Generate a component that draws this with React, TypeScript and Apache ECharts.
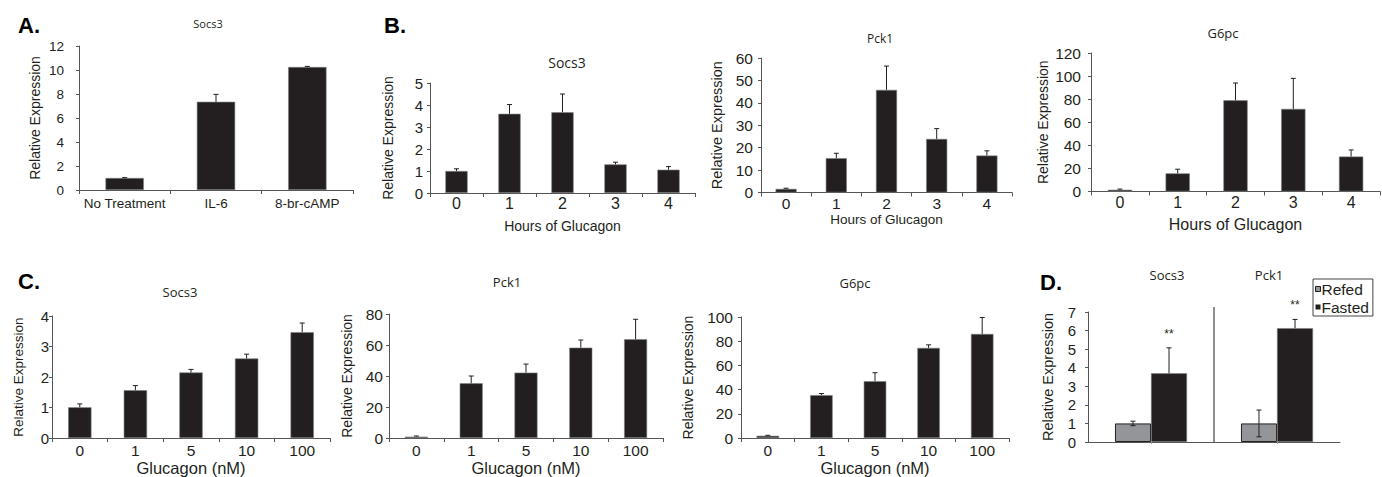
import React, { useEffect, useRef } from 'react';
import * as echarts from 'echarts';

// ---------- data ----------
const treatmentCategories = ['No Treatment', 'IL-6', '8-br-cAMP'];
const treatmentSocs3 = [1.0, 7.35, 10.25];
const treatmentSocs3Err = [0.03, 0.62, 0.05];

const hourCategories = ['0', '1', '2', '3', '4'];
const hoursSocs3 = [1.0, 3.6, 3.67, 1.3, 1.06];
const hoursSocs3Err = [0.1, 0.42, 0.83, 0.1, 0.14];
const hoursPck1 = [1.6, 15.3, 45.8, 23.9, 16.5];
const hoursPck1Err = [0.3, 2.2, 10.6, 4.6, 2.1];
const hoursG6pc = [1.5, 15.7, 79, 71.6, 30.3];
const hoursG6pcErr = [0.6, 3.6, 15, 26.4, 5.7];

const doseCategories = ['0', '1', '5', '10', '100'];
const doseSocs3 = [1.01, 1.57, 2.15, 2.61, 3.47];
const doseSocs3Err = [0.11, 0.15, 0.1, 0.14, 0.3];
const dosePck1 = [0.9, 35.3, 42.2, 58.3, 63.7];
const dosePck1Err = [0.4, 4.7, 5.5, 4.9, 12.9];
const doseG6pc = [1.9, 35.5, 47, 74.5, 86];
const doseG6pcErr = [0.4, 1.3, 7, 2.5, 13.6];

const feedingGenes = ['Socs3', 'Pck1'];
const refedValues = [1.0, 1.0];
const refedErr = [0.12, 0.72];
const fastedValues = [3.7, 6.13];
const fastedErr = [1.37, 0.47];
const fastedSignificance = ['**', '**'];

const yAxisName = 'Relative Expression';
const hoursAxisName = 'Hours of Glucagon';
const doseAxisName = 'Glucagon (nM)';

// ---------- styling ----------
const FONT = "'Liberation Sans', Arial, sans-serif";
const TITLE_FONT = "'Open Sans', 'Noto Sans', sans-serif";
const INK = '#231f20';
const AXIS = '#555555';
const GREY = '#939598';

interface Panel {
  cats: string[];
  vals: number[];
  errs: number[];
  left: number; top: number; width: number; height: number;
  max: number; interval: number;
  yLabelSize: number; yLabelMargin: number;
  yNameSize: number; yNameGap: number;
  xLabelSize: number; xLabelMargin: number;
  xName?: string; xNameSize?: number; xNameGap?: number;
}

const panels: Panel[] = [
  { cats: treatmentCategories, vals: treatmentSocs3, errs: treatmentSocs3Err,
    left: 79, top: 46, width: 274, height: 144, max: 12, interval: 2,
    yLabelSize: 13.5, yLabelMargin: 15, yNameSize: 14, yNameGap: 37,
    xLabelSize: 13.5, xLabelMargin: 6 },
  { cats: hourCategories, vals: hoursSocs3, errs: hoursSocs3Err,
    left: 430, top: 83, width: 265, height: 110, max: 5, interval: 1,
    yLabelSize: 15, yLabelMargin: 7, yNameSize: 14, yNameGap: 35,
    xLabelSize: 16, xLabelMargin: 2, xName: hoursAxisName, xNameSize: 14, xNameGap: 26 },
  { cats: hourCategories, vals: hoursPck1, errs: hoursPck1Err,
    left: 761, top: 58, width: 251, height: 134.5, max: 60, interval: 10,
    yLabelSize: 15.5, yLabelMargin: 8, yNameSize: 14.5, yNameGap: 37,
    xLabelSize: 15.5, xLabelMargin: 3, xName: hoursAxisName, xNameSize: 13.5, xNameGap: 14 },
  { cats: hourCategories, vals: hoursG6pc, errs: hoursG6pcErr,
    left: 1091, top: 53, width: 289, height: 138.5, max: 120, interval: 20,
    yLabelSize: 15.5, yLabelMargin: 10, yNameSize: 14, yNameGap: 41,
    xLabelSize: 16, xLabelMargin: 3, xName: hoursAxisName, xNameSize: 16, xNameGap: 25 },
  { cats: doseCategories, vals: doseSocs3, errs: doseSocs3Err,
    left: 52, top: 316, width: 278, height: 125, max: 4, interval: 1,
    yLabelSize: 15, yLabelMargin: 3, yNameSize: 13.5, yNameGap: 27,
    xLabelSize: 15.5, xLabelMargin: 4, xName: doseAxisName, xNameSize: 16.5, xNameGap: 18 },
  { cats: doseCategories, vals: dosePck1, errs: dosePck1Err,
    left: 389, top: 314, width: 274, height: 124, max: 80, interval: 20,
    yLabelSize: 15.5, yLabelMargin: 6, yNameSize: 14, yNameGap: 35,
    xLabelSize: 15.5, xLabelMargin: 4, xName: doseAxisName, xNameSize: 16.5, xNameGap: 21 },
  { cats: doseCategories, vals: doseG6pc, errs: doseG6pcErr,
    left: 741, top: 317, width: 268, height: 124, max: 100, interval: 20,
    yLabelSize: 15.5, yLabelMargin: 8, yNameSize: 14, yNameGap: 46,
    xLabelSize: 15.5, xLabelMargin: 4, xName: doseAxisName, xNameSize: 16.5, xNameGap: 20 },
];

const panelD = { left: 1088, top: 312, width: 252, height: 130, max: 7, interval: 1,
  yLabelSize: 15, yLabelMargin: 12, yNameSize: 14.5, yNameGap: 33 };

const labels = [
  { text: 'A.', x: 18, y: 25 },
  { text: 'B.', x: 384, y: 25 },
  { text: 'C.', x: 18, y: 281 },
  { text: 'D.', x: 1040, y: 282 },
];

const titles = [
  { text: 'Socs3', x: 208, y: 23, size: 11 },
  { text: 'Socs3', x: 567, y: 62, size: 14 },
  { text: 'Pck1', x: 880, y: 38, size: 12 },
  { text: 'G6pc', x: 1223, y: 33, size: 13 },
  { text: 'Socs3', x: 180, y: 292, size: 13 },
  { text: 'Pck1', x: 507, y: 282, size: 13 },
  { text: 'G6pc', x: 855, y: 283, size: 13 },
  { text: feedingGenes[0], x: 1167, y: 275, size: 13 },
  { text: feedingGenes[1], x: 1269, y: 275, size: 13 },
];

const D_OFFSET = 0.143;

function errorRenderer(offsetFrac: number, both: boolean) {
  return (params: any, api: any) => {
    const x = api.value(0);
    const v = api.value(1);
    const e = api.value(2);
    const band = api.size([1, 0])[0];
    const base = api.coord([x, v]);
    const top = api.coord([x, v + e]);
    const cx = base[0] + offsetFrac * band;
    const st = { stroke: INK, lineWidth: 1 };
    const cap = 2.5;
    const children: any[] = [
      { type: 'line', shape: { x1: cx, y1: base[1], x2: cx, y2: top[1] }, style: st },
      { type: 'line', shape: { x1: cx - cap, y1: top[1], x2: cx + cap, y2: top[1] }, style: st },
    ];
    if (both) {
      const bot = api.coord([x, v - e]);
      children.push(
        { type: 'line', shape: { x1: cx, y1: base[1], x2: cx, y2: bot[1] }, style: st },
        { type: 'line', shape: { x1: cx - cap, y1: bot[1], x2: cx + cap, y2: bot[1] }, style: st },
      );
    }
    return { type: 'group', children };
  };
}

function dividerRenderer(params: any, api: any) {
  const c = api.coord([0, 0]);
  const band = api.size([1, 0])[0];
  const sys = params.coordSys;
  const x = c[0] + band / 2;
  return {
    type: 'line',
    shape: { x1: x, y1: sys.y - 5, x2: x, y2: sys.y + sys.height },
    style: { stroke: INK, lineWidth: 1 },
  };
}

function buildOption() {
  const grids: any[] = [];
  const xAxes: any[] = [];
  const yAxes: any[] = [];
  const series: any[] = [];

  const yAxisCommon = (p: any, idx: number) => ({
    type: 'value', gridIndex: idx, min: 0, max: p.max, interval: p.interval,
    axisLine: { show: true, lineStyle: { color: AXIS, width: 1 } },
    axisTick: { show: true, length: 3, lineStyle: { color: AXIS } },
    splitLine: { show: false },
    axisLabel: { fontSize: p.yLabelSize, fontFamily: FONT, color: INK, margin: p.yLabelMargin },
    name: yAxisName, nameLocation: 'middle', nameGap: p.yNameGap,
    nameTextStyle: { fontSize: p.yNameSize, fontFamily: FONT, color: INK },
  });

  panels.forEach((p, i) => {
    grids.push({ left: p.left, top: p.top, width: p.width, height: p.height });
    xAxes.push({
      type: 'category', gridIndex: i, data: p.cats,
      axisLine: { show: true, lineStyle: { color: AXIS, width: 1 } },
      axisTick: { show: true, length: 4, interval: 0, lineStyle: { color: AXIS } },
      axisLabel: { fontSize: p.xLabelSize, fontFamily: FONT, color: INK, margin: p.xLabelMargin, interval: 0 },
      name: p.xName || '', nameLocation: 'middle', nameGap: p.xNameGap || 0,
      nameTextStyle: { fontSize: p.xNameSize || 14, fontFamily: FONT, color: INK, verticalAlign: 'top' },
    });
    yAxes.push(yAxisCommon(p, i));
    series.push({
      type: 'bar', xAxisIndex: i, yAxisIndex: i, data: p.vals, barWidth: '42%',
      itemStyle: { color: INK, borderColor: '#808285', borderWidth: 0.6 },
    });
    series.push({
      type: 'custom', xAxisIndex: i, yAxisIndex: i, z: 3,
      itemStyle: { color: INK },
      data: p.vals.map((v, k) => [k, v, p.errs[k]]),
      encode: { x: 0, y: 1 },
      renderItem: errorRenderer(0, false),
    });
  });

  const d = panels.length;
  grids.push({ left: panelD.left, top: panelD.top, width: panelD.width, height: panelD.height });
  xAxes.push({
    type: 'category', gridIndex: d, data: feedingGenes,
    axisLine: { show: true, lineStyle: { color: AXIS, width: 1 } },
    axisTick: { show: true, length: 2, alignWithLabel: true, lineStyle: { color: '#999' } },
    axisLabel: { show: false },
  });
  yAxes.push(yAxisCommon(panelD, d));
  series.push({
    name: 'Refed', type: 'bar', xAxisIndex: d, yAxisIndex: d, data: refedValues,
    barWidth: '28.6%', barGap: '0%',
    itemStyle: { color: GREY, borderColor: INK, borderWidth: 1 },
  });
  series.push({
    name: 'Fasted', type: 'bar', xAxisIndex: d, yAxisIndex: d, data: fastedValues,
    barWidth: '28.6%', barGap: '0%',
    itemStyle: { color: INK, borderColor: '#808285', borderWidth: 0.6 },
  });
  series.push({
    type: 'custom', xAxisIndex: d, yAxisIndex: d, z: 3, itemStyle: { color: INK },
    data: refedValues.map((v, k) => [k, v, refedErr[k]]), encode: { x: 0, y: 1 },
    renderItem: errorRenderer(-D_OFFSET, true),
  });
  series.push({
    type: 'custom', xAxisIndex: d, yAxisIndex: d, z: 3, itemStyle: { color: INK },
    data: fastedValues.map((v, k) => [k, v, fastedErr[k]]), encode: { x: 0, y: 1 },
    renderItem: errorRenderer(D_OFFSET, false),
  });
  // significance markers above the fasted error bars
  series.push({
    type: 'custom', xAxisIndex: d, yAxisIndex: d, z: 4, silent: true,
    data: fastedValues.map((v, k) => [k, v + fastedErr[k]]), encode: { x: 0, y: 1 },
    renderItem: (params: any, api: any) => {
      const pt = api.coord([api.value(0), api.value(1)]);
      const band = api.size([1, 0])[0];
      return {
        type: 'text',
        x: pt[0] + D_OFFSET * band,
        y: pt[1] - 14,
        style: {
          text: fastedSignificance[params.dataIndex],
          fill: '#231f20', stroke: 'none',
          fontSize: 12, fontFamily: FONT,
          align: 'center', verticalAlign: 'middle',
        },
      };
    },
  });
  series.push({
    type: 'custom', xAxisIndex: d, yAxisIndex: d, z: 1, silent: true, itemStyle: { color: INK },
    data: [[0, 0]], encode: { x: 0, y: 1 }, renderItem: dividerRenderer,
  });

  const graphic: any[] = [
    ...labels.map((l) => ({
      type: 'text', x: l.x, y: l.y,
      style: { text: l.text, fill: '#000', font: `bold 22px ${FONT}`, textVerticalAlign: 'middle' },
    })),
    ...titles.map((t) => ({
      type: 'text', x: t.x, y: t.y,
      style: { text: t.text, fill: INK, font: `${t.size}px ${TITLE_FONT}`, textAlign: 'center', textVerticalAlign: 'middle' },
    })),
  ];

  return {
    animation: false,
    backgroundColor: '#ffffff',
    color: [INK],
    grid: grids,
    xAxis: xAxes,
    yAxis: yAxes,
    series,
    graphic,
    legend: {
      data: [
        { name: 'Refed', itemStyle: { color: GREY, borderColor: INK, borderWidth: 1 } },
        { name: 'Fasted', itemStyle: { color: INK, borderColor: INK, borderWidth: 0 } },
      ],
      orient: 'vertical', left: 1313, top: 279,
      icon: 'rect', itemWidth: 5, itemHeight: 5, itemGap: 2,
      padding: [2, 4, 1, 2], borderColor: '#444', borderWidth: 1,
      textStyle: { fontSize: 15.5, fontFamily: FONT, color: INK, padding: [0, 0, 0, -4] },
    },
  };
}

export default function App() {
  const ref = useRef<HTMLDivElement>(null);
  useEffect(() => {
    if (!ref.current) return;
    const chart = echarts.init(ref.current, undefined, { renderer: 'svg' });
    chart.setOption(buildOption() as any);
    return () => chart.dispose();
  }, []);
  return (
    <div
      ref={ref}
      style={{ position: 'fixed', left: 0, top: 0, width: 1382, height: 477, background: '#fff' }}
    />
  );
}
